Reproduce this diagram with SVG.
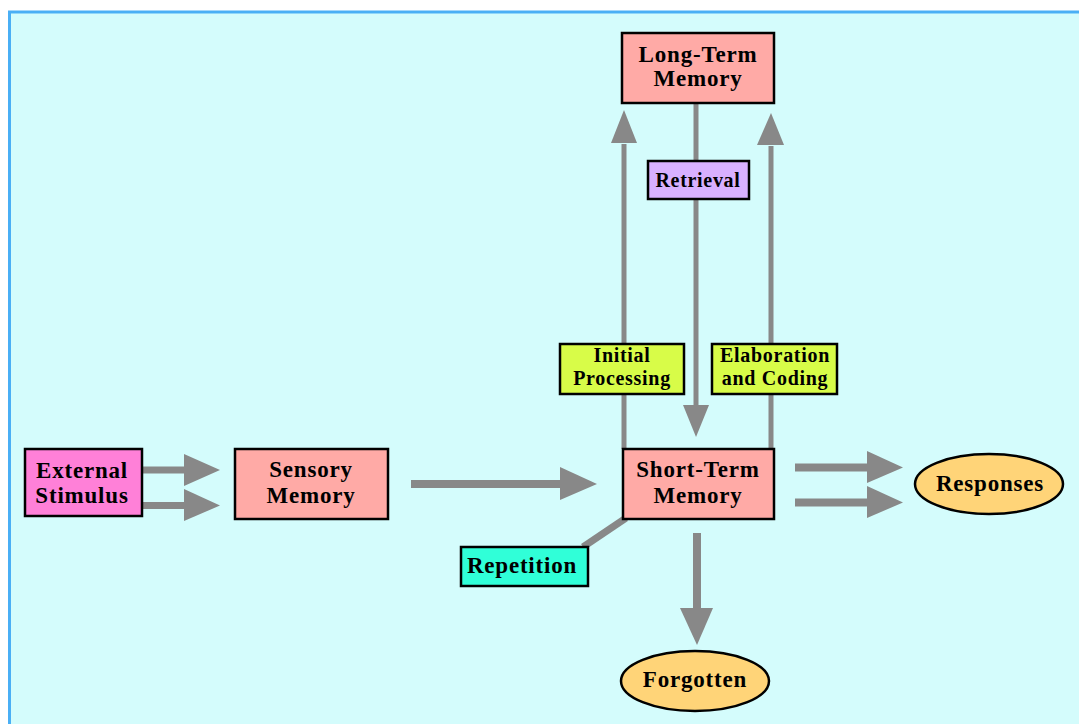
<svg xmlns="http://www.w3.org/2000/svg" width="1079" height="724" viewBox="0 0 1079 724">
  <style>
    .box { stroke: #000; stroke-width: 2.5; }
    .lbl { font-family: "Liberation Serif", "Times New Roman", serif; font-weight: bold; fill: #000; text-anchor: middle; }
    .big { font-size: 23px; letter-spacing: 0.8px; }
    .mid { font-size: 20px; letter-spacing: 0.7px; }
    .shaft { stroke: #888888; fill: none; }
    .head { fill: #888888; }
  </style>

  <!-- panel background -->
  <rect x="0" y="0" width="1079" height="724" fill="#ffffff"/>
  <rect x="9.5" y="12" width="1080" height="720" fill="#d4fcfc" stroke="#4aaff5" stroke-width="3"/>

  <!-- connectors -->
  <g id="connectors">
    <!-- External Stimulus to Sensory Memory -->
    <line class="shaft" x1="142" y1="470" x2="185" y2="470" stroke-width="7"/>
    <polygon class="head" points="184,454 220,470 184,486"/>
    <line class="shaft" x1="142" y1="505.5" x2="185" y2="505.5" stroke-width="7"/>
    <polygon class="head" points="184,489 220,505.5 184,521"/>
    <!-- Sensory Memory to Short-Term Memory -->
    <line class="shaft" x1="411" y1="484" x2="562" y2="484" stroke-width="8"/>
    <polygon class="head" points="560,467 597,484 560,500"/>
    <!-- Short-Term Memory to Responses -->
    <line class="shaft" x1="795" y1="467.5" x2="869" y2="467.5" stroke-width="8"/>
    <polygon class="head" points="867,451 903,467.5 867,483"/>
    <line class="shaft" x1="795" y1="502.5" x2="869" y2="502.5" stroke-width="8"/>
    <polygon class="head" points="867,486 903,502.5 867,518"/>
    <!-- Short-Term Memory to Forgotten -->
    <line class="shaft" x1="697" y1="533" x2="697" y2="610" stroke-width="8"/>
    <polygon class="head" points="680,608 697,645 713,608"/>
    <!-- Repetition loop -->
    <line class="shaft" x1="583" y1="547" x2="626" y2="518" stroke-width="7"/>
    <!-- Initial Processing: STM up to LTM -->
    <line class="shaft" x1="624" y1="449" x2="624" y2="144" stroke-width="5"/>
    <polygon class="head" points="611,143 624,110 637,143"/>
    <!-- Elaboration and Coding: STM up to LTM -->
    <line class="shaft" x1="771" y1="449" x2="771" y2="146" stroke-width="5"/>
    <polygon class="head" points="757,145 771,113 784,145"/>
    <!-- Retrieval: LTM down to STM -->
    <line class="shaft" x1="696" y1="103" x2="696" y2="407" stroke-width="5"/>
    <polygon class="head" points="683,405 696,437 709,405"/>
  </g>

  <g id="external-stimulus">
    <rect class="box" x="25" y="449" width="117" height="67" fill="#ff80d8"/>
    <text class="lbl big" x="82" y="477.5">External</text>
    <text class="lbl big" x="82" y="503">Stimulus</text>
  </g>

  <g id="sensory-memory">
    <rect class="box" x="235" y="449" width="153" height="70" fill="#ffaaa6"/>
    <text class="lbl big" x="311" y="477">Sensory</text>
    <text class="lbl big" x="311" y="503">Memory</text>
  </g>

  <g id="short-term-memory">
    <rect class="box" x="623" y="449" width="151" height="70" fill="#ffaaa6"/>
    <text class="lbl big" x="698" y="477">Short-Term</text>
    <text class="lbl big" x="698" y="503">Memory</text>
  </g>

  <g id="long-term-memory">
    <rect class="box" x="622" y="33" width="152" height="70" fill="#ffaaa6"/>
    <text class="lbl big" x="698" y="62">Long-Term</text>
    <text class="lbl big" x="698" y="86">Memory</text>
  </g>

  <g id="retrieval">
    <rect class="box" x="648" y="161" width="101" height="38" fill="#d8b0ff"/>
    <text class="lbl mid" x="698" y="187">Retrieval</text>
  </g>

  <g id="initial-processing">
    <rect class="box" x="560" y="344" width="124" height="50" fill="#d8fc48"/>
    <text class="lbl mid" x="622" y="362">Initial</text>
    <text class="lbl mid" x="622" y="385">Processing</text>
  </g>

  <g id="elaboration-coding">
    <rect class="box" x="712" y="344" width="125" height="50" fill="#d8fc48"/>
    <text class="lbl mid" x="775" y="362">Elaboration</text>
    <text class="lbl mid" x="775" y="385">and Coding</text>
  </g>

  <g id="repetition">
    <rect class="box" x="461" y="547" width="127" height="39" fill="#30ffd8"/>
    <text class="lbl big" x="522" y="573">Repetition</text>
  </g>

  <g id="responses">
    <ellipse class="box" cx="989" cy="484" rx="74" ry="30" fill="#ffd478"/>
    <text class="lbl big" x="990" y="491">Responses</text>
  </g>

  <g id="forgotten">
    <ellipse class="box" cx="695" cy="681" rx="74" ry="30" fill="#ffd478"/>
    <text class="lbl big" x="695" y="687">Forgotten</text>
  </g>
</svg>
